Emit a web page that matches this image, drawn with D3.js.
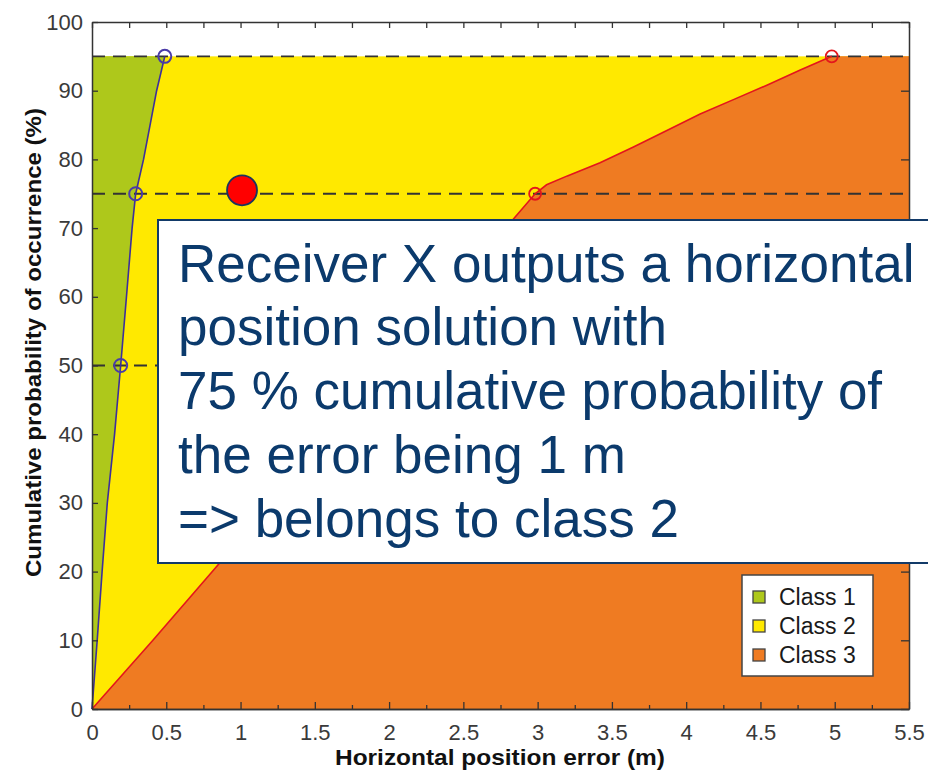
<!DOCTYPE html>
<html>
<head>
<meta charset="utf-8">
<script src="https://cdn.jsdelivr.net/npm/d3@7"></script>
<style>
  html, body { margin: 0; padding: 0; background: #fff; }
  svg { display: block; font-family: "Liberation Sans", Arial, Helvetica, sans-serif; }
</style>
</head>
<body>
<svg id="chart" width="928" height="770"></svg>
<script>
// ---------- data ----------
const xTicks = [0, 0.5, 1, 1.5, 2, 2.5, 3, 3.5, 4, 4.5, 5, 5.5];
const xMinorTicks = [0.25, 0.75, 1.25, 1.75, 2.25, 2.75, 3.25, 3.75, 4.25, 4.75, 5.25];
const yTicks = [0, 10, 20, 30, 40, 50, 60, 70, 80, 90, 100];

// Class 1 / Class 2 boundary (blue curve): [error m, cumulative %]
const class1Boundary = [
  [0, 0], [0.035, 10], [0.068, 20], [0.103, 30], [0.152, 40], [0.193, 50],
  [0.232, 60], [0.27, 70], [0.294, 75], [0.347, 80], [0.435, 90], [0.49, 95]
];
const class1Markers = [[0.193, 50], [0.294, 75], [0.49, 95]];

// Class 2 / Class 3 boundary (red curve)
const class2Boundary = [
  [0, 0], [0.41, 10], [0.81, 20], [2.0, 50],
  [2.84, 71.4], [2.983, 75], [3.06, 76.3], [3.2, 77.6], [3.42, 79.5],
  [3.645, 81.8], [3.87, 84.2], [4.094, 86.6], [4.318, 88.7], [4.543, 90.8],
  [4.768, 93.0], [4.98, 95]
];
const class2Markers = [[2.0, 50], [2.983, 75], [4.98, 95]];

const dashedLevels = [50, 75, 95];
const topLevel = 95;
const receiverPoint = [1.01, 75.5];

const legendLabels = ["Class 1", "Class 2", "Class 3"];
const classColors = ["#AEC81B", "#FFE900", "#EF7B22"];

const noteLines = [
  "Receiver X outputs a horizontal",
  "position solution with",
  "75 % cumulative probability of",
  "the error being 1 m",
  "=> belongs to class 2"
];

const xTitle = "Horizontal position error (m)";
const yTitle = "Cumulative probability of occurrence (%)";

// ---------- layout ----------
const svg = d3.select("#chart");
const L = 92, R = 909, T = 22, B = 709;
const x = d3.scaleLinear().domain([0, 5.5]).range([L, R]);
const y = d3.scaleLinear().domain([0, 100]).range([B, T]);

const line = d3.line().x(d => x(d[0])).y(d => y(d[1]));

// Class 2 background (yellow) up to 95 %
svg.append("rect")
  .attr("x", x(0)).attr("y", y(topLevel))
  .attr("width", x(5.5) - x(0)).attr("height", y(0) - y(topLevel))
  .attr("fill", classColors[1]);

// Class 1 region (green)
const greenPoly = class1Boundary.concat([[0, topLevel]]);
svg.append("path").attr("d", line(greenPoly) + "Z").attr("fill", classColors[0]);

// Class 3 region (orange)
const orangePoly = class2Boundary.concat([[5.5, topLevel], [5.5, 0]]);
svg.append("path").attr("d", line(orangePoly) + "Z").attr("fill", classColors[2]);

// dashed levels
svg.append("g").selectAll("line").data(dashedLevels).join("line")
  .attr("x1", x(0)).attr("x2", x(5.5))
  .attr("y1", d => y(d)).attr("y2", d => y(d))
  .attr("stroke", "#333").attr("stroke-width", 1.8)
  .attr("stroke-dasharray", "13,8");

// boundary lines
svg.append("path").attr("d", line(class2Boundary))
  .attr("fill", "none").attr("stroke", "#E3161C").attr("stroke-width", 1.6);
svg.append("path").attr("d", line(class1Boundary))
  .attr("fill", "none").attr("stroke", "#3D2F9B").attr("stroke-width", 1.6);

svg.append("g").selectAll("circle").data(class1Markers).join("circle")
  .attr("cx", d => x(d[0])).attr("cy", d => y(d[1])).attr("r", 6.5)
  .attr("fill", "none").attr("stroke", "#4A3BA8").attr("stroke-width", 2);
svg.append("g").selectAll("circle").data(class2Markers).join("circle")
  .attr("cx", d => x(d[0])).attr("cy", d => y(d[1])).attr("r", 6)
  .attr("fill", "none").attr("stroke", "#E3161C").attr("stroke-width", 1.8);

// axes (ticks pointing inward)
const axisColor = "#333";
const tickFmt = d => String(d);

const gB = svg.append("g").attr("transform", `translate(0,${B})`)
  .call(d3.axisBottom(x).tickValues(xTicks).tickSizeInner(-7).tickSizeOuter(0).tickPadding(15).tickFormat(tickFmt));
const gBm = svg.append("g").attr("transform", `translate(0,${B})`)
  .call(d3.axisBottom(x).tickValues(xMinorTicks).tickSizeInner(-4).tickSizeOuter(0).tickFormat(""));
const gT = svg.append("g").attr("transform", `translate(0,${T})`)
  .call(d3.axisTop(x).tickValues(xTicks.concat(xMinorTicks)).tickSizeInner(-6).tickSizeOuter(0).tickFormat(""));
const gL = svg.append("g").attr("transform", `translate(${L},0)`)
  .call(d3.axisLeft(y).tickValues(yTicks).tickSizeInner(-6).tickSizeOuter(0).tickPadding(8).tickFormat(tickFmt));
const gR = svg.append("g").attr("transform", `translate(${R},0)`)
  .call(d3.axisRight(y).tickValues(yTicks).tickSizeInner(-8).tickSizeOuter(0).tickFormat(""));

[gB, gBm, gT, gL, gR].forEach(g => {
  g.select(".domain").attr("stroke", axisColor).attr("stroke-width", 1.5);
  g.selectAll(".tick line").attr("stroke", axisColor).attr("stroke-width", 1.3);
  g.selectAll(".tick text").attr("fill", "#3a3a3a")
    .style("font-size", "22px").style("font-family", "'Liberation Sans', Arial, sans-serif");
});
gL.selectAll(".tick text").attr("dx", "-1");

// axis titles
svg.append("text")
  .attr("x", 500).attr("y", 765)
  .attr("text-anchor", "middle")
  .attr("textLength", 330).attr("lengthAdjust", "spacingAndGlyphs")
  .style("font-size", "22px").style("font-weight", "bold").attr("fill", "#111")
  .text(xTitle);
svg.append("text")
  .attr("transform", `translate(41,${342.5}) rotate(-90)`)
  .attr("text-anchor", "middle")
  .attr("textLength", 469).attr("lengthAdjust", "spacingAndGlyphs")
  .style("font-size", "22px").style("font-weight", "bold").attr("fill", "#111")
  .text(yTitle);

// receiver X point
svg.append("circle")
  .attr("cx", x(receiverPoint[0])).attr("cy", y(receiverPoint[1])).attr("r", 15)
  .attr("fill", "#FF0000").attr("stroke", "#1C355E").attr("stroke-width", 1.8);

// legend
const lg = svg.append("g").attr("transform", "translate(742,575)");
lg.append("rect").attr("width", 131).attr("height", 101)
  .attr("fill", "#fff").attr("stroke", "#444").attr("stroke-width", 1.5);
const li = lg.selectAll("g.item").data(legendLabels).join("g").attr("class", "item")
  .attr("transform", (d, i) => `translate(0,${22 + i * 29})`);
li.append("rect").attr("x", 11).attr("y", -6).attr("width", 12).attr("height", 12)
  .attr("fill", (d, i) => classColors[i]).attr("stroke", "#444").attr("stroke-width", 1.3);
li.append("text").attr("x", 37).attr("y", 8)
  .style("font-size", "23px").attr("fill", "#1a1a1a").text(d => d);

// annotation text box
const box = svg.append("g");
box.append("rect").attr("x", 158).attr("y", 220).attr("width", 800).attr("height", 343)
  .attr("fill", "#fff").attr("stroke", "#123A68").attr("stroke-width", 2);
box.selectAll("text").data(noteLines).join("text")
  .attr("x", 178).attr("y", (d, i) => 281.7 + i * 63.7)
  .style("font-size", "53px").attr("fill", "#0B3A6C")
  .text(d => d);
</script>
</body>
</html>
